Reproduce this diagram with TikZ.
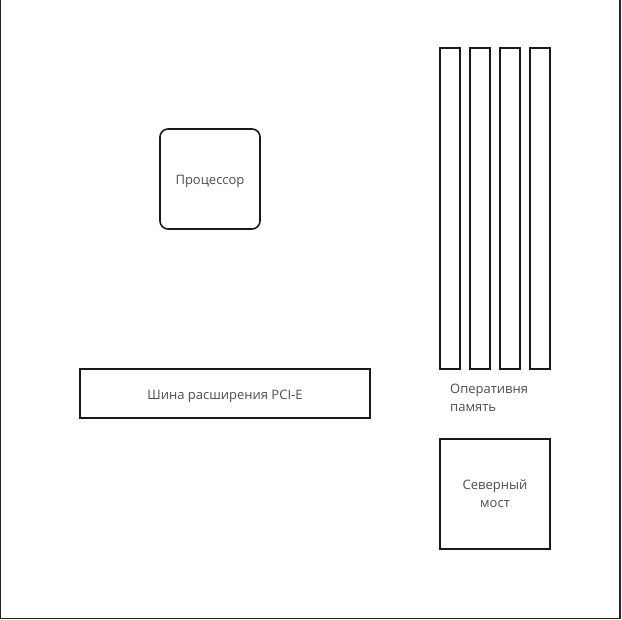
\documentclass[tikz,border=0pt]{standalone}
\usepackage{fontspec}
\setmainfont{Open Sans}
\usepackage{tikz}

\begin{document}
\begin{tikzpicture}[x=1pt,y=1pt,
  part/.style={draw=black!90,line width=1.6pt,inner sep=0pt,font=\fontsize{13}{18}\selectfont,text=black!70},
  oneline/.style={text height=11pt,text depth=0pt}]
\useasboundingbox (0,0) rectangle (622,620);
\coordinate (board tl) at (0.8,625);
\coordinate (board br) at (620,1.2);
\coordinate (board tr) at (620,625);

\draw[black!85,line width=1.4pt] (board tl) |- (board br) -- (board tr);

\node[part,oneline,rounded corners=8pt,minimum width=100pt,minimum height=100pt] (cpu) at (210,441) {Процессор};
\node[part,oneline,text height=13pt,line width=1.3pt,minimum width=290pt,minimum height=49pt] (pcie) at (225,226.5) {Шина расширения PCI-E};

\node[part,minimum width=20pt,minimum height=321pt] (ram1) at (450,411.5) {};
\node[part,minimum width=20pt,minimum height=321pt] (ram2) at (480,411.5) {};
\node[part,minimum width=20pt,minimum height=321pt] (ram3) at (510,411.5) {};
\node[part,minimum width=20pt,minimum height=321pt] (ram4) at (540,411.5) {};
\node[font=\fontsize{13}{18}\selectfont,text=black!70,align=left,anchor=base west,inner sep=0pt] (ramlabel) at (450,208) {Оперативня\\память};

\node[part,align=center,minimum width=110pt,minimum height=110pt] (nb) at (495,126) {Северный\\мост};
\end{tikzpicture}
\end{document}
